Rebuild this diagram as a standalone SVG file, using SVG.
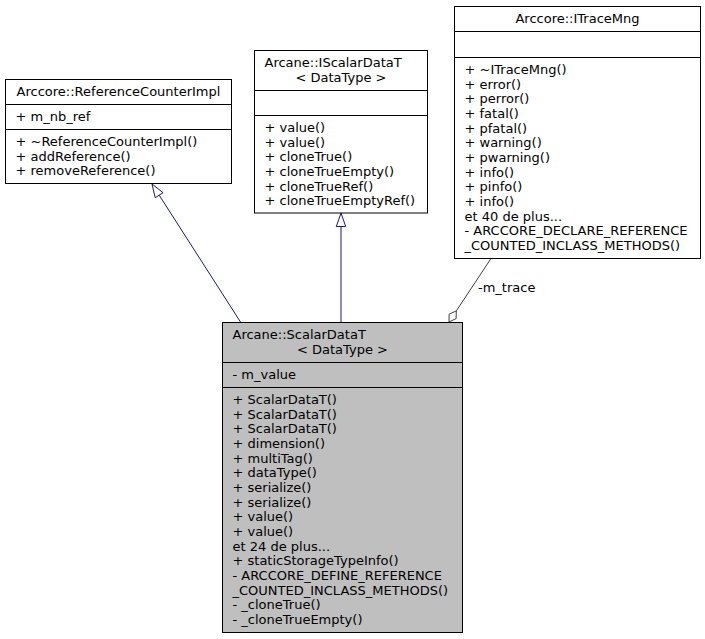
<svg xmlns="http://www.w3.org/2000/svg" width="705" height="639" viewBox="0 0 705 639">
<style>
text{font-family:"DejaVu Sans","Liberation Sans",sans-serif;font-size:13px;fill:#000}
.box{fill:#fff;stroke:#000;stroke-width:1}
.cur{fill:#bfbfbf;stroke:#000;stroke-width:1}
.sep{stroke:#000;stroke-width:1}
.mid{text-anchor:middle}
.inh{stroke:#191970;stroke-width:1;fill:none}
.inhh{stroke:#191970;stroke-width:1;fill:#fff}
.agg{stroke:#404040;stroke-width:1;fill:none}
.aggh{stroke:#404040;stroke-width:1;fill:#fff}
</style>
<rect width="705" height="639" fill="#fff"/>
<g id="edges">
  <line class="inh" x1="240.5" y1="322" x2="159.2" y2="195.2"/>
  <polygon class="inhh" points="152,184 163.1,192.7 155.2,197.7"/>
  <line class="inh" x1="341" y1="322" x2="341" y2="226.5"/>
  <polygon class="inhh" points="341,213 345.7,226.5 336.3,226.5"/>
  <line class="agg" x1="456.3" y1="310.9" x2="491" y2="258.5"/>
  <polygon class="aggh" points="449,322 449.1,314.2 456.3,310.9 456.1,318.6"/>
  <text x="478" y="292">-m_trace</text>
</g>
<g id="ReferenceCounterImpl">
  <rect class="box" x="5.5" y="79.5" width="226" height="104"/>
  <line class="sep" x1="5.5" y1="104.5" x2="231.5" y2="104.5"/>
  <line class="sep" x1="5.5" y1="129.5" x2="231.5" y2="129.5"/>
  <text class="mid" x="118.5" y="96">Arccore::ReferenceCounterImpl</text>
  <text x="15.5" y="121">+ m_nb_ref</text>
  <text x="15.5" y="146">+ ~ReferenceCounterImpl()</text>
  <text x="15.5" y="160.7">+ addReference()</text>
  <text x="15.5" y="175.3">+ removeReference()</text>
</g>
<g id="IScalarDataT">
  <rect class="box" x="254.5" y="50.5" width="173" height="162.5"/>
  <line class="sep" x1="254.5" y1="90.5" x2="427.5" y2="90.5"/>
  <line class="sep" x1="254.5" y1="115.5" x2="427.5" y2="115.5"/>
  <text x="264.5" y="67">Arcane::IScalarDataT</text>
  <text class="mid" x="341" y="81.7">&lt; DataType &gt;</text>
  <text x="264.5" y="132">+ value()</text>
  <text x="264.5" y="146.7">+ value()</text>
  <text x="264.5" y="161.3">+ cloneTrue()</text>
  <text x="264.5" y="176">+ cloneTrueEmpty()</text>
  <text x="264.5" y="190.7">+ cloneTrueRef()</text>
  <text x="264.5" y="205.3">+ cloneTrueEmptyRef()</text>
</g>
<g id="ITraceMng">
  <rect class="box" x="454.5" y="6.5" width="246" height="252"/>
  <line class="sep" x1="454.5" y1="31.5" x2="700.5" y2="31.5"/>
  <line class="sep" x1="454.5" y1="57.5" x2="700.5" y2="57.5"/>
  <text class="mid" x="577.5" y="23">Arccore::ITraceMng</text>
  <text x="464.5" y="74">+ ~ITraceMng()</text>
  <text x="464.5" y="88.7">+ error()</text>
  <text x="464.5" y="103.3">+ perror()</text>
  <text x="464.5" y="118">+ fatal()</text>
  <text x="464.5" y="132.7">+ pfatal()</text>
  <text x="464.5" y="147.3">+ warning()</text>
  <text x="464.5" y="162">+ pwarning()</text>
  <text x="464.5" y="176.7">+ info()</text>
  <text x="464.5" y="191.3">+ pinfo()</text>
  <text x="464.5" y="206">+ info()</text>
  <text x="464.5" y="220.7">et 40 de plus...</text>
  <text x="464.5" y="235.3">- ARCCORE_DECLARE_REFERENCE</text>
  <text x="464.5" y="250">_COUNTED_INCLASS_METHODS()</text>
</g>
<g id="ScalarDataT">
  <rect class="cur" x="222.5" y="322.5" width="240" height="310"/>
  <line class="sep" x1="222.5" y1="362.5" x2="462.5" y2="362.5"/>
  <line class="sep" x1="222.5" y1="387.5" x2="462.5" y2="387.5"/>
  <text x="232.5" y="339">Arcane::ScalarDataT</text>
  <text class="mid" x="342.5" y="353.7">&lt; DataType &gt;</text>
  <text x="232.5" y="379">- m_value</text>
  <text x="232.5" y="404">+ ScalarDataT()</text>
  <text x="232.5" y="418.7">+ ScalarDataT()</text>
  <text x="232.5" y="433.3">+ ScalarDataT()</text>
  <text x="232.5" y="448">+ dimension()</text>
  <text x="232.5" y="462.7">+ multiTag()</text>
  <text x="232.5" y="477.3">+ dataType()</text>
  <text x="232.5" y="492">+ serialize()</text>
  <text x="232.5" y="506.7">+ serialize()</text>
  <text x="232.5" y="521.3">+ value()</text>
  <text x="232.5" y="536">+ value()</text>
  <text x="232.5" y="550.7">et 24 de plus...</text>
  <text x="232.5" y="565.3">+ staticStorageTypeInfo()</text>
  <text x="232.5" y="580">- ARCCORE_DEFINE_REFERENCE</text>
  <text x="232.5" y="594.7">_COUNTED_INCLASS_METHODS()</text>
  <text x="232.5" y="609.3">- _cloneTrue()</text>
  <text x="232.5" y="624">- _cloneTrueEmpty()</text>
</g>
</svg>
